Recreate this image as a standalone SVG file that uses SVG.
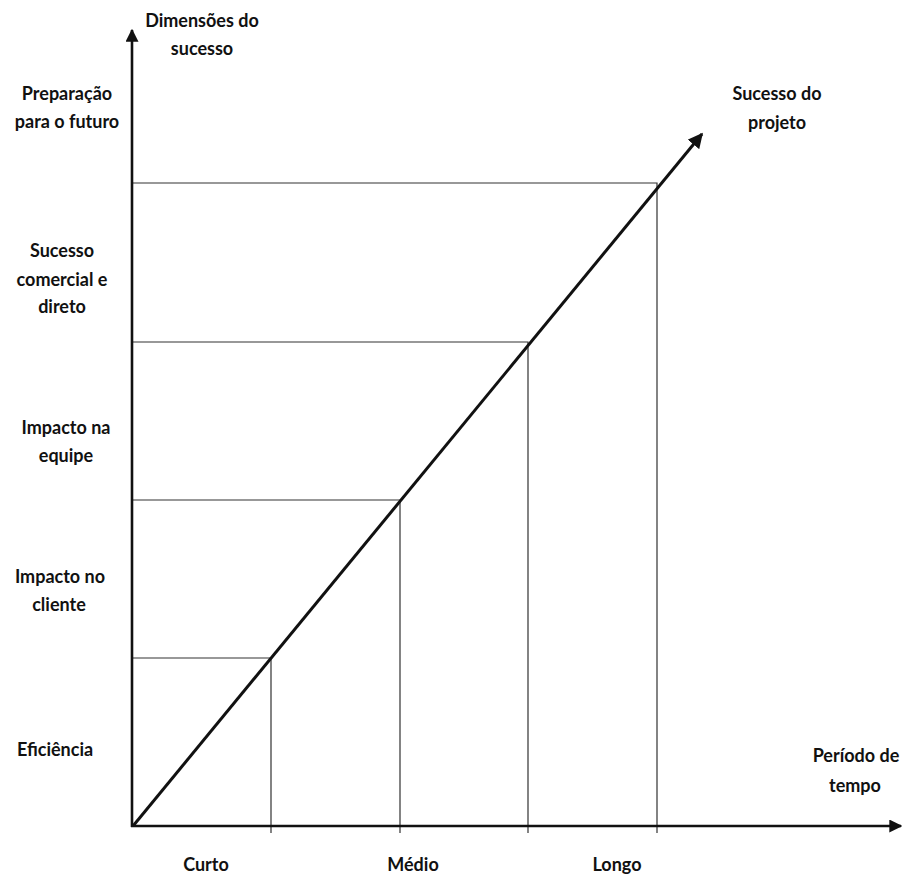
<svg xmlns="http://www.w3.org/2000/svg" width="907" height="883" viewBox="0 0 907 883">
  <style>
    .lbl { font-family: Lato, "Open Sans", "Liberation Sans", sans-serif; font-weight: bold; font-size: 18px; fill: #111; text-anchor: middle; }
    .axis { stroke: #111; stroke-width: 2.6; fill: none; }
    .grid { stroke: #333; stroke-width: 1.2; fill: none; }
    .trend { stroke: #111; stroke-width: 3; fill: none; }
  </style>
  <defs>
    <marker id="head" viewBox="0 0 10 10" refX="9" refY="5" markerWidth="5" markerHeight="5" markerUnits="strokeWidth" orient="auto">
      <path d="M0,0 L10,5 L0,10 Z" fill="#111"/>
    </marker>
  </defs>
  <rect width="907" height="883" fill="#fff"/>

  <g id="connectors">
    <!-- level guides -->
    <polyline class="grid" points="133,658 271,658 271,833"/>
    <polyline class="grid" points="133,500 400,500 400,833"/>
    <polyline class="grid" points="133,342 528,342 528,833"/>
    <polyline class="grid" points="133,183 657,183 657,833"/>
    <!-- axes -->
    <line class="axis" x1="132" y1="827" x2="132" y2="30" marker-end="url(#head)"/>
    <line class="axis" x1="131" y1="826" x2="901" y2="826" marker-end="url(#head)"/>
    <!-- project success trend -->
    <line class="trend" x1="133" y1="826" x2="702" y2="134" marker-end="url(#head)"/>
  </g>

  <g id="axis-y-title">
    <text class="lbl" x="202" y="27">Dimensões do</text>
    <text class="lbl" x="202" y="55">sucesso</text>
  </g>
  <g id="dim-futuro">
    <text class="lbl" x="67" y="100">Preparação</text>
    <text class="lbl" x="67" y="128">para o futuro</text>
  </g>
  <g id="dim-comercial">
    <text class="lbl" x="62" y="257">Sucesso</text>
    <text class="lbl" x="62" y="286">comercial e</text>
    <text class="lbl" x="62" y="313">direto</text>
  </g>
  <g id="dim-equipe">
    <text class="lbl" x="66" y="434">Impacto na</text>
    <text class="lbl" x="66" y="462">equipe</text>
  </g>
  <g id="dim-cliente">
    <text class="lbl" x="60" y="583">Impacto no</text>
    <text class="lbl" x="59" y="611">cliente</text>
  </g>
  <g id="dim-eficiencia">
    <text class="lbl" x="55" y="756">Eficiência</text>
  </g>
  <g id="trend-title">
    <text class="lbl" x="777" y="100">Sucesso do</text>
    <text class="lbl" x="777" y="129">projeto</text>
  </g>
  <g id="axis-x-title">
    <text class="lbl" x="856" y="762">Período de</text>
    <text class="lbl" x="855" y="792">tempo</text>
  </g>
  <g id="t-curto"><text class="lbl" x="206" y="871">Curto</text></g>
  <g id="t-medio"><text class="lbl" x="413" y="871">Médio</text></g>
  <g id="t-longo"><text class="lbl" x="617" y="871">Longo</text></g>
</svg>
